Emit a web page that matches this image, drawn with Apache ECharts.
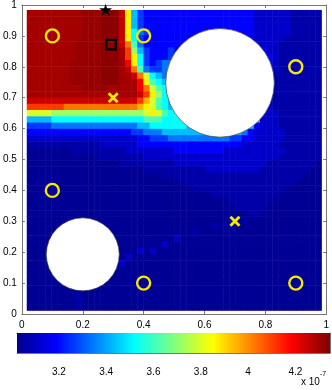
<!DOCTYPE html>
<html>
<head>
<meta charset="utf-8">
<script src="https://cdn.jsdelivr.net/npm/echarts@6/dist/echarts.min.js"></script>
<style>
html,body{margin:0;padding:0;background:#fff}
#chart{width:332px;height:390px}
</style>
</head>
<body>
<div id="chart"></div>
<script>
// field value levels (x 10^-7), one character per mesh cell
var levelKeys = '0123456789abcdefghij';
var levelValues = [3.03, 3.06, 3.11, 3.19, 3.26, 3.34, 3.43, 3.52, 3.62, 3.72,
                   3.80, 3.87, 3.95, 4.03, 4.11, 4.19, 4.25, 4.30, 4.315, 4.33];

// rows from top (y=0.984) to bottom, columns from left (x=0.016)
var fieldRows = [
    'hhhhhhhh hiiijjjg b6433333 33333333 33333222 22211111',
    'hhhhhhhh hiiijjjg b6433333 33333333 33333222 22211111',
    'hhhhhhhh hiiijjjg b6433333 33333333 33333222 22211111',
    'hhhhhhhh hiiijjjg b7543333 33333333 33333222 22211111',
    'hhhhhhhh hiiijjjg b7433333 33333333 33333222 22111111',
    'hhhhhhhh iiiijjjg d8533333 33333333 33333322 21111111',
    'hhhhhhhh iiiijjjh e9643334 33333333 33333332 21111111',
    'hhhhhhhh iiiijjjh eb743334 33333333 33333333 21111111',
    'hhhhhhhi iiiijjjh fb743455 33333333 33333333 21111111',
    'hhhhhhhi iiiijjjh gd854456 33333333 33333333 21111111',
    'hhhhhhhi iiiijjjh hgda7655 55333333 33333333 11111111',
    'hhhhhhhi iiiijjjh hhfb8766 66333333 33333333 11111111',
    'hhhhhhhh hiiiihhh hhfda877 77333333 33333333 11111111',
    'hhhhhhhh hhhhhhhh hhgeb977 77733333 33333331 11111111',
    'gggggggg gggggggg ggeca876 66633333 33333322 11111111',
    'eeeeeedd dddddddd ddcba876 66633333 33333322 11111111',
    'aaaa9999 99999999 999aba87 77733333 33333322 21111111',
    '66667777 77777777 77788877 77766666 66666622 21111111',
    '44445555 55555555 55667777 77666666 66666322 21111111',
    '33333333 33333333 34455566 66666666 66653222 22111111',
    '22222222 22222222 22334445 55555555 54433222 22111111',
    '11111111 11112222 22333333 33333333 33322222 21111111',
    '00000001 11111111 22222222 33333333 22222222 22111111',
    '00000000 00011111 11122222 22222222 22222222 21111111',
    '00000000 00000001 11111111 22222222 22222221 11111110',
    '00000000 00000000 00011111 11111222 22222211 11111100',
    '00000000 00000000 00000011 11111111 11111111 11111000',
    '00000000 00000000 00000000 01111111 11111111 11110000',
    '00000000 00000000 00000000 00011111 11111111 11000000',
    '00000000 00000000 00000000 00000011 11111111 10000000',
    '00000000 00000000 00000000 00000000 01111111 00000000',
    '00000000 00000000 00000000 00000000 00111110 00000000',
    '00000000 00000000 00000000 00000000 00001100 00000000',
    '00000000 00000000 00000000 00000000 00010000 00000000',
    '00000000 00000000 00000000 00000010 10000000 00000000',
    '00000000 00000000 00000000 00010000 00000000 00000000',
    '00000000 00000000 00000000 20000000 00000000 00000000',
    '00000000 00000000 00000020 00000000 00000000 00000000',
    '00000000 00000000 00202000 00000000 00000000 00000000',
    '00000000 00000000 20000000 00000000 00000000 00000000',
    '00000000 00000002 00000000 00000000 00000000 00000000',
    '00000000 00000000 00000000 00000000 00000000 00000000',
    '00000000 00000000 00000000 00000000 00000000 00000000',
    '00000000 00000000 00000000 00000000 00000000 00000000',
    '00000000 00000000 00000000 00000000 00000000 00000000',
    '00000000 10000000 00000000 00000000 00000000 00000000',
    '00000000 10000000 00000000 00000000 00000000 00000000',
    '00000000 10000000 00000000 00000000 00000000 00000000'
];
var meshX = [0.016, 0.984];
var meshY = [0.012, 0.984];

// obstacles: centre x, centre y, radius
var obstacles = [[0.651, 0.748, 0.177], [0.2, 0.193, 0.119]];
// markers
var ringPts = [[0.1, 0.9], [0.4, 0.9], [0.9, 0.8], [0.1, 0.4], [0.4, 0.1], [0.9, 0.1]];
var crossPts = [[0.3, 0.7], [0.7, 0.3]];
var starPts = [[0.275, 0.985]];
var squarePts = [[0.293, 0.872]];

// colour bar
var cbRange = [3.0226, 4.3466];
var cbTicks = [3.2, 3.4, 3.6, 3.8, 4, 4.2];

var jet = ['#00008f', '#0000ff', '#0080ff', '#00ffff', '#80ff80', '#ffff00', '#ff8000', '#ff0000', '#800000'];

var nRow = fieldRows.length;
var nCol = fieldRows[0].replace(/ /g, '').length;
var cw = (meshX[1] - meshX[0]) / nCol;
var ch = (meshY[1] - meshY[0]) / nRow;
var cells = [];
fieldRows.forEach(function (row, r) {
    row.replace(/ /g, '').split('').forEach(function (k, c) {
        cells.push([meshX[0] + (c + 0.5) * cw, meshY[1] - (r + 0.5) * ch, levelValues[levelKeys.indexOf(k)]]);
    });
});

var axisCol = '#777';
var font = 'Liberation Sans';
var yellow = '#f5e900';

function frameAxis(grid, pos, extra) {
    var a = {
        gridIndex: grid, type: 'value', position: pos,
        axisLine: {show: true, onZero: false, lineStyle: {color: axisCol, width: 1}},
        axisTick: {show: true, inside: true, length: 3, lineStyle: {color: axisCol}},
        axisLabel: {show: false},
        splitLine: {show: false}
    };
    for (var k in extra) {
        if (typeof extra[k] === 'object' && a[k]) {
            for (var j in extra[k]) a[k][j] = extra[k][j];
        } else {
            a[k] = extra[k];
        }
    }
    return a;
}

var Echarts = echarts.init(document.getElementById('chart'));
var option = {
    animation: false,
    backgroundColor: '#fff',
    grid: [
        {left: 17, right: 2, top: 4, height: 310},
        {left: 17, right: 2, top: 333, height: 20}
    ],
    xAxis: [
        frameAxis(0, 'bottom', {min: 0, max: 1, interval: 0.2,
            axisLabel: {show: true, margin: 6, color: '#000', fontSize: 10, fontFamily: font}}),
        frameAxis(0, 'top', {min: 0, max: 1, interval: 0.2}),
        frameAxis(1, 'bottom', {min: cbRange[0], max: cbRange[1],
            axisTick: {customValues: cbTicks},
            axisLabel: {show: true, customValues: cbTicks, margin: 14, color: '#000', fontSize: 10, fontFamily: font}}),
        frameAxis(1, 'top', {min: cbRange[0], max: cbRange[1], axisTick: {customValues: cbTicks}})
    ],
    yAxis: [
        frameAxis(0, 'left', {min: 0, max: 1, interval: 0.1,
            axisLabel: {show: true, margin: 5, color: '#000', fontSize: 10, fontFamily: font}}),
        frameAxis(0, 'right', {min: 0, max: 1, interval: 0.1}),
        frameAxis(1, 'left', {min: 0, max: 1, axisTick: {show: false}}),
        frameAxis(1, 'right', {min: 0, max: 1, axisTick: {show: false}})
    ],
    visualMap: {
        show: false, type: 'continuous', seriesIndex: 0, dimension: 2,
        min: cbRange[0], max: cbRange[1], inRange: {color: jet}
    },
    graphic: [
        {type: 'text', x: 301, y: 382, style: {text: 'x 10', font: '10px "Liberation Sans"', fill: '#000', verticalAlign: 'middle'}},
        {type: 'text', x: 320, y: 374.5, style: {text: '-7', font: '7px "Liberation Sans"', fill: '#000', verticalAlign: 'middle'}}
    ],
    series: [
        {
            type: 'custom', xAxisIndex: 0, yAxisIndex: 0, silent: true,
            data: cells,
            renderItem: function (params, api) {
                var x = api.value(0), y = api.value(1);
                var a = api.coord([x - cw / 2, y + ch / 2]);
                var b = api.coord([x + cw / 2, y - ch / 2]);
                return {type: 'rect',
                    shape: {x: a[0], y: a[1], width: b[0] - a[0] + 0.5, height: b[1] - a[1] + 0.5},
                    style: {fill: api.visual('color')}};
            }
        },
        {
            type: 'custom', xAxisIndex: 0, yAxisIndex: 0, silent: true,
            data: obstacles,
            renderItem: function (params, api) {
                var c = api.coord([api.value(0), api.value(1)]);
                var s = api.size([api.value(2), api.value(2)]);
                return {type: 'circle', shape: {cx: c[0], cy: c[1], r: (s[0] + s[1]) / 2},
                    style: {fill: '#fff', stroke: '#444', lineWidth: 0.7}};
            }
        },
        {
            type: 'scatter', xAxisIndex: 0, yAxisIndex: 0, data: ringPts,
            symbol: 'circle', symbolSize: 13,
            itemStyle: {color: 'rgba(0,0,0,0)', borderColor: yellow, borderWidth: 2.4, opacity: 1}
        },
        {
            type: 'scatter', xAxisIndex: 0, yAxisIndex: 0, data: crossPts,
            symbol: 'path://M0,0L10,10M10,0L0,10', symbolSize: 9,
            itemStyle: {color: 'rgba(0,0,0,0)', borderColor: yellow, borderWidth: 2.8, opacity: 1}
        },
        {
            type: 'scatter', xAxisIndex: 0, yAxisIndex: 0, data: starPts, clip: false,
            symbol: 'path://M50,0L61,35L98,35L68,57L79,91L50,70L21,91L32,57L2,35L39,35Z', symbolSize: [13, 12],
            itemStyle: {color: '#000', opacity: 1}
        },
        {
            type: 'scatter', xAxisIndex: 0, yAxisIndex: 0, data: squarePts,
            symbol: 'rect', symbolSize: 9.5,
            itemStyle: {color: 'rgba(0,0,0,0)', borderColor: '#000', borderWidth: 2.2, opacity: 1}
        },
        {
            type: 'custom', xAxisIndex: 2, yAxisIndex: 2, silent: true,
            data: [[cbRange[0], cbRange[1]]],
            renderItem: function (params, api) {
                var a = api.coord([api.value(0), 1]);
                var b = api.coord([api.value(1), 0]);
                var stops = jet.map(function (c, i) { return {offset: i / (jet.length - 1), color: c}; });
                return {type: 'rect', shape: {x: a[0], y: a[1], width: b[0] - a[0], height: b[1] - a[1]},
                    style: {fill: new echarts.graphic.LinearGradient(0, 0, 1, 0, stops)}};
            }
        }
    ]
};
Echarts.setOption(option);
</script>
</body>
</html>
